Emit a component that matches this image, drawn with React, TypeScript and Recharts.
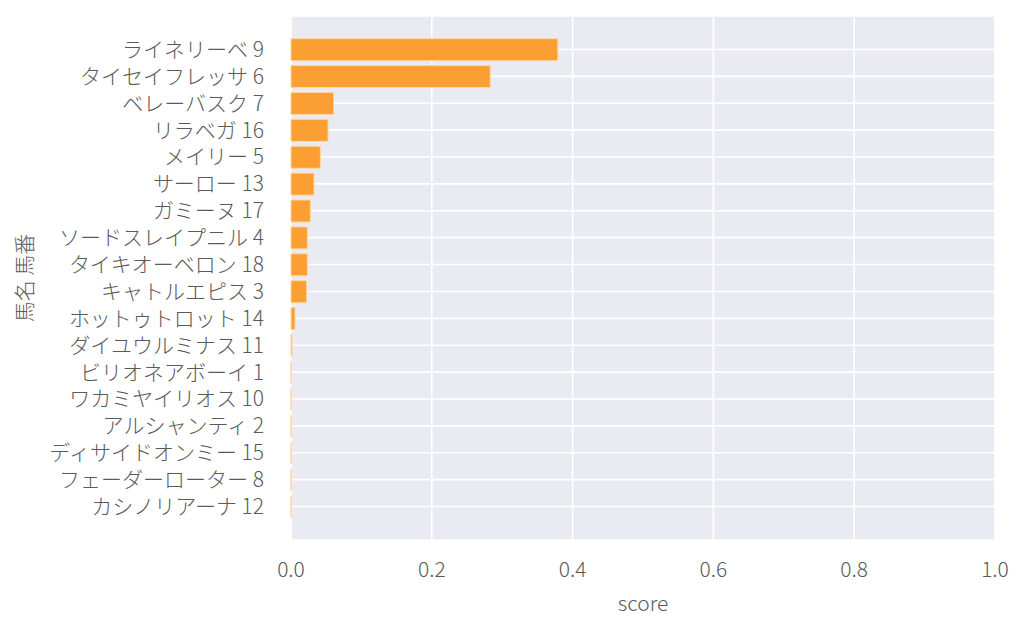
import { BarChart, Bar, XAxis, YAxis, CartesianGrid } from 'recharts';

const horses = [
  'ライネリーベ 9', 'タイセイフレッサ 6', 'ベレーバスク 7', 'リラベガ 16',
  'メイリー 5', 'サーロー 13', 'ガミーヌ 17', 'ソードスレイプニル 4',
  'タイキオーベロン 18', 'キャトルエピス 3', 'ホットゥトロット 14', 'ダイユウルミナス 11',
  'ビリオネアボーイ 1', 'ワカミヤイリオス 10', 'アルシャンティ 2', 'ディサイドオンミー 15',
  'フェーダーローター 8', 'カシノリアーナ 12',
];
const scores = [
  0.379, 0.283, 0.0606, 0.0526, 0.0417, 0.0327, 0.0275, 0.0232, 0.0232,
  0.0222, 0.0057, 0.0014, 0.0003, 0.0002, 0.0002, 0.0001, 0.0001, 0.0001,
];
const xTicks = [0, 0.2, 0.4, 0.6, 0.8, 1.0];

const data = horses.map((name, i) => ({ name, score: scores[i] }));

const font = '"Noto Sans CJK JP Light", "Noto Sans CJK JP", "Noto Sans", sans-serif';
const textColor = '#5a5a5a';

const YLabel = (props: any) => {
  const vb = props.viewBox;
  const cx = vb.x + 23;
  const cy = vb.y + vb.height / 2;
  return (
    <text x={cx} y={cy} transform={`rotate(-90, ${cx}, ${cy})`} textAnchor="middle"
      dominantBaseline="central" fontSize={21} fontWeight={300} fill={textColor} fontFamily={font}>
      馬名 馬番
    </text>
  );
};

export default function App() {
  return (
    <div style={{ position: 'absolute', left: 0, top: 0, width: 1024, height: 631, background: '#fff' }}>
      <BarChart width={1024} height={631} data={data} layout="vertical"
        margin={{ top: 16, right: 29, bottom: 0, left: 0 }} barCategoryGap="10%">
        <CartesianGrid fill="#EAEAF2" stroke="#ffffff" strokeWidth={1.6} />
        <XAxis type="number" domain={[0, 1]} ticks={xTicks} height={91}
          axisLine={false} tickLine={false} tickMargin={16}
          tickFormatter={(v: number) => v.toFixed(1)}
          tick={{ fontSize: 21, fill: textColor, fontFamily: font, fontWeight: 300 }}
          label={{ value: 'score', position: 'insideBottom', offset: 20, fontSize: 21,
            fill: textColor, fontFamily: font, fontWeight: 300 }} />
        <YAxis type="category" dataKey="name" width={291} interval={0}
          axisLine={false} tickLine={false} tickMargin={21}
          padding={{ top: 20, bottom: 20 }}
          tick={{ fontSize: 21, fill: textColor, fontFamily: font, fontWeight: 300 }}
          label={YLabel} />
        <Bar dataKey="score" fill="#fb9f33" stroke="#ffd6a0" strokeWidth={1}
          isAnimationActive={false} />
      </BarChart>
    </div>
  );
}
